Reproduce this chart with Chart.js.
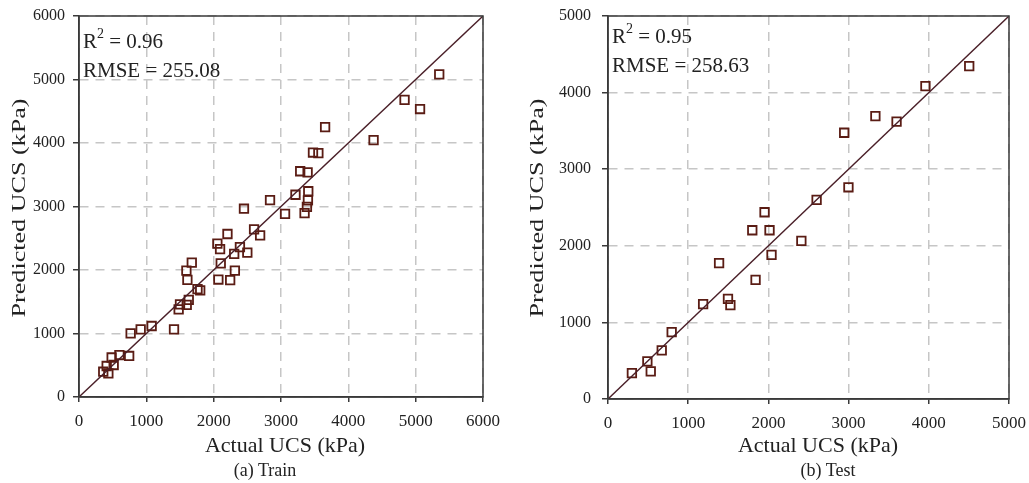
<!DOCTYPE html>
<html>
<head>
<meta charset="utf-8">
<script src="https://cdn.jsdelivr.net/npm/chart.js@4.4.1/dist/chart.umd.min.js"></script>
<style>
    html, body { margin: 0; padding: 0; background: #fff; }
    body { width: 1029px; height: 483px; position: relative; overflow: hidden; font-family: 'Liberation Serif', 'Times New Roman', serif; }
    canvas { position: absolute; top: 0; }
    #train { left: 0; }
    #test { left: 505px; }
    .caption { position: absolute; top: 460px; font-size: 18px; color: #222; transform: translateX(-50%); white-space: nowrap; }
</style>
</head>
<body>
<canvas id="train" width="505" height="483"></canvas>
<canvas id="test" width="524" height="483"></canvas>
<div class="caption" style="left:265px">(a) Train</div>
<div class="caption" style="left:828px">(b) Test</div>
<script>
    // values (kPa)
    const trainActual = [360, 411, 436, 485, 515, 600, 745, 767, 916, 1079, 1411, 1480, 1500, 1600, 1630, 1760, 1800, 1610, 1595, 1675,
        2055, 2095, 2105, 2070, 2205, 2245, 2305, 2315, 2390, 2450, 2500, 2600, 2690, 2837, 3060, 3215, 3350, 3385, 3400, 3405,
        3285, 3395, 3475, 3555, 3655, 4375, 4835, 5065, 5350];
    const trainPredicted = [398, 488, 373, 622, 504, 661, 646, 1003, 1066, 1118, 1066, 1380, 1460, 1450, 1530, 1700, 1680, 1845, 1990, 2115,
        2415, 2330, 2105, 1850, 2567, 1840, 2255, 1990, 2360, 2965, 2275, 2640, 2545, 3100, 2885, 3185, 2895, 2995, 3095, 3240,
        3555, 3538, 3850, 3840, 4250, 4045, 4680, 4535, 5080];
    const testActual = [298, 491, 533, 670, 794, 1186, 1385, 1496, 1526, 1799, 1840, 1952, 2014, 2039, 2411, 2601, 2998, 2945, 3334, 3598, 3958, 4504];
    const testPredicted = [339, 490, 360, 634, 874, 1239, 1773, 1308, 1226, 2203, 1555, 2438, 2203, 1882, 2064, 2599, 2764, 3476, 3694, 3620, 4085, 4346];

    const trainTicks = [0, 1000, 2000, 3000, 4000, 5000, 6000];
    const testTicks = [0, 1000, 2000, 3000, 4000, 5000];

    const trainStats = ['0.96', '255.08'];
    const testStats = ['0.95', '258.63'];

    const FONT = "'Liberation Serif', 'Times New Roman', serif";
    const TEXT = '#222';
    const MARKER = '#5a1c14';
    const LINE = '#4a1f28';

    // box round the plot, axis titles and the R2 / RMSE note
    function decorPlugin(cfg) {
        return {
            id: 'decor',
            afterDraw(chart) {
                const ctx = chart.ctx;
                const a = chart.chartArea;
                ctx.save();
                ctx.strokeStyle = '#3a3a3a';
                ctx.lineWidth = 1.5;
                ctx.strokeRect(a.left, a.top, a.right - a.left, a.bottom - a.top);

                ctx.fillStyle = TEXT;
                ctx.textBaseline = 'alphabetic';
                ctx.textAlign = 'left';
                ctx.font = '21px ' + FONT;
                let x = a.left + 4;
                ctx.fillText('R', x, cfg.r2y);
                x += ctx.measureText('R').width;
                ctx.font = '14px ' + FONT;
                ctx.fillText('2', x, cfg.r2y - 10);
                x += ctx.measureText('2').width;
                ctx.font = '21px ' + FONT;
                ctx.fillText(' = ' + cfg.stats[0], x, cfg.r2y);
                ctx.fillText('RMSE = ' + cfg.stats[1], a.left + 4, cfg.rmsey);

                ctx.font = '22px ' + FONT;
                ctx.textAlign = 'center';
                ctx.textBaseline = 'middle';
                ctx.fillText('Actual UCS (kPa)', cfg.xTitleX, 446);

                ctx.translate(cfg.yTitleX, 208);
                ctx.rotate(-Math.PI / 2);
                ctx.scale(1.45, 1);
                ctx.font = '18px ' + FONT;
                ctx.fillText('Predicted UCS (kPa)', 0, 0);
                ctx.restore();
            },
        };
    }

    function makeChart(id, actual, predicted, ticks, opts) {
        const max = ticks[ticks.length - 1];
        const points = actual.map((v, i) => ({ x: v, y: predicted[i] }));
        const diag = [{ x: ticks[0], y: ticks[0] }, { x: max, y: max }];

        const axis = (isX) => ({
            type: 'linear',
            min: 0,
            max: max,
            afterBuildTicks: (scale) => { scale.ticks = ticks.map((v) => ({ value: v })); },
            afterFit: (scale) => {
                if (isX) scale.height = opts.xAxisH;
                else scale.width = opts.yAxisW;
                // keep edge labels from shrinking the plot
                scale.paddingLeft = 0;
                scale.paddingRight = 0;
                scale.paddingTop = 0;
                scale.paddingBottom = 0;
            },
            grid: {
                color: '#c6c6c6',
                lineWidth: 1.5,
                tickColor: '#3a3a3a',
                tickLength: isX ? 5 : 6,
            },
            border: { display: true, color: '#3a3a3a', width: 1.5, dash: [9, 7] },
            ticks: {
                color: TEXT,
                padding: isX ? 9 : opts.yPad,
                font: { family: FONT, size: isX ? 17 : 16 },
                callback: (v) => String(v),
            },
        });

        return new Chart(document.getElementById(id), {
            type: 'scatter',
            data: {
                datasets: [
                    {
                        data: diag,
                        showLine: true,
                        borderColor: LINE,
                        borderWidth: 1.4,
                        pointRadius: 0,
                    },
                    {
                        data: points,
                        pointStyle: 'rect',
                        pointRadius: 6,
                        pointBorderWidth: 1.8,
                        borderColor: MARKER,
                        backgroundColor: 'rgba(0,0,0,0)',
                    },
                ],
            },
            options: {
                responsive: false,
                animation: false,
                devicePixelRatio: 1,
                layout: { padding: { top: 16, right: opts.padRight, left: 0, bottom: 0 } },
                plugins: { legend: { display: false }, tooltip: { enabled: false } },
                scales: { x: axis(true), y: axis(false) },
            },
            plugins: [decorPlugin(opts)],
        });
    }

    makeChart('train', trainActual, trainPredicted, trainTicks, {
        xAxisH: 86, yAxisW: 79, padRight: 22, yPad: 8,
        stats: trainStats, r2y: 48, rmsey: 77, xTitleX: 285, yTitleX: 20,
    });
    makeChart('test', testActual, testPredicted, testTicks, {
        xAxisH: 84, yAxisW: 103, padRight: 20, yPad: 11,
        stats: testStats, r2y: 43, rmsey: 72, xTitleX: 313, yTitleX: 33,
    });
</script>
</body>
</html>
